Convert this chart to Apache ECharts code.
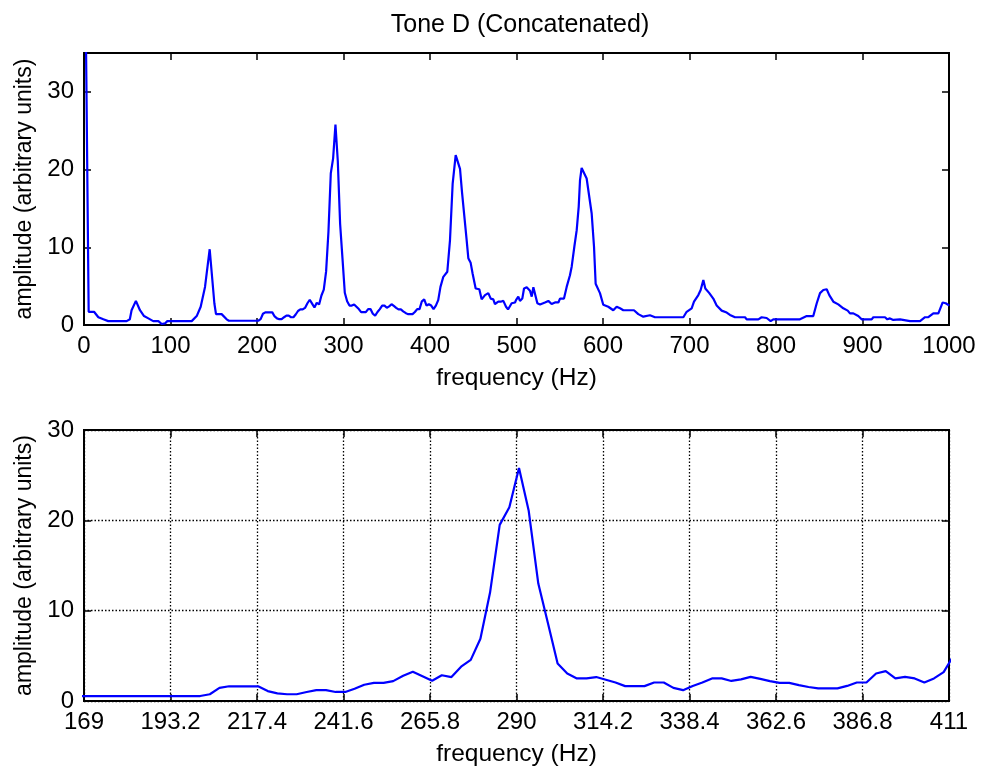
<!DOCTYPE html>
<html>
<head>
<meta charset="utf-8">
<script src="https://cdn.jsdelivr.net/npm/echarts@6/dist/echarts.min.js"></script>
<style>
html,body{margin:0;padding:0;background:#fff;}
#chart{width:981px;height:771px;}
</style>
</head>
<body>
<div id="chart"></div>
<script>
var chartTitle = 'Tone D (Concatenated)';
var xName = 'frequency (Hz)';
var yName = 'amplitude (arbitrary units)';

// Spectrum vertices (Hz, amplitude)
var frequencyHz = [
  0, 2.7, 5.4, 11.6, 16.6, 22.4, 28, 49.3, 53, 55, 60, 64.7, 69.4, 74.4, 80, 86, 89.8, 93.6, 96.3, 118.7,
  120.6, 124.5, 130.3, 134.9, 139.9, 145.3, 150.7, 152.6, 159.1, 164.9, 167.5,
  169.6, 201.5, 204.2, 206.9, 209.6, 217.7, 220.4, 223.1, 225.8, 228.5, 231.3, 234.0, 236.7, 239.4, 242.1,
  244.7, 247.4, 250.1, 252.8, 255.5, 258.3, 261.0, 263.7, 266.4, 269.1, 271.8, 274.5, 277.2, 279.9, 282.6,
  285.3, 288.0, 290.7, 293.4, 296.1, 298.8, 301.5, 304.2, 306.9, 309.6, 312.3, 315.0, 317.7, 320.4, 323.1,
  325.8, 328.5, 331.2, 333.9, 336.6, 339.3, 342.0, 344.7, 347.4, 350.1, 352.8, 355.5, 358.2, 360.9, 363.6,
  366.3, 369.0, 371.7, 374.4, 377.1, 379.8, 382.5, 385.2, 387.9, 390.6, 393.3, 396.0, 398.7, 401.4, 404.1,
  406.8, 409.5, 412.1,
  415.4, 420.0, 423.1, 426.2, 429.7, 434.7, 437.0, 439.3, 442.4, 444.3, 447.0, 449.3, 452.8, 457.0, 459.7,
  463.6, 467.4, 470.2, 473.2, 475.1, 479.0, 481.7,
  484.8, 487.9, 490.2, 494.4, 498.3, 499.4, 502.1, 504.0, 506.7, 508.7, 511.8, 515.6, 517.6, 519.5, 521.4,
  524.1, 527.2, 532.9, 536.8, 540.6, 544.5, 548.4, 550.3, 552.2, 554.9, 558.0, 561.8, 563.8, 566.9, 569.6,
  571.9, 573.4, 575.3, 581.1, 586.9, 589.6, 591.5, 596.5, 600.3, 606.1, 611.9, 615.8, 619.7, 623.5, 635.8,
  640.8, 646.6, 654.3, 660.1, 677.5, 679.4, 683.2, 692.9, 696.7, 702.5, 705.2, 710.2, 712.9, 716.0, 718.3,
  722.9, 727.5, 731.4, 737.2, 743.0, 746.8, 752.6, 764.2, 766.1, 779.6, 783.4, 789.2, 793.8, 796.9, 827.7,
  835.5, 843.1, 847.1, 850.9, 854.7, 858.6, 861.6, 866.3, 872.0, 877.8, 882.9, 885.5, 889.4, 895.1, 899.0,
  910.6, 912.5, 926.0, 928.7, 931.8, 935.6, 943.4, 945.3, 954.9, 956.9, 960.7, 966.5, 972.3, 976.1, 981.9,
  987.7, 992.7, 996.2, 1000.4
];
var amplitude = [
  60, 32, 1.7, 1.7, 1.0, 0.73, 0.5, 0.5, 0.73, 1.9, 3.1, 1.9, 1.15, 0.85, 0.5, 0.5, 0.13, 0.2, 0.5, 0.5,
  0.73, 0.5, 1.15, 2.35, 4.9, 9.75, 2.8, 1.4, 1.4, 0.73, 0.55,
  0.55, 0.55, 0.75, 1.45, 1.63, 1.63, 1.1, 0.85, 0.75, 0.75, 1.0, 1.2, 1.2, 1.0, 1.0,
  1.35, 1.8, 2.0, 2.0, 2.2, 2.8, 3.25, 2.75, 2.25, 2.85, 2.65, 3.8, 4.55, 6.9, 12.0,
  19.5, 21.45, 25.8, 21.1, 13.0, 8.6, 4.15, 3.05, 2.5, 2.5, 2.65, 2.35, 2.05, 1.65, 1.65,
  1.65, 2.05, 2.05, 1.45, 1.2, 1.67, 2.05, 2.5, 2.5, 2.22, 2.4, 2.67, 2.45, 2.2, 2.0,
  2.0, 1.75, 1.55, 1.4, 1.4, 1.4, 1.67, 2.05, 2.05, 3.05, 3.3, 2.5, 2.67, 2.5, 2.05,
  2.5, 3.2, 4.9,
  6.2, 6.85, 10.9, 18.2, 21.85, 20.1, 17.1, 17.1, 10.9, 8.6, 8.0, 6.6, 4.7, 4.6, 3.3,
  3.85, 4.1, 3.4, 3.3, 2.7, 3.0, 3.0,
  3.1, 2.35, 2.0, 2.8, 2.9, 3.2, 3.65, 3.1, 3.4, 4.7, 4.85, 4.4, 3.65, 4.85, 4.7,
  2.8, 2.65, 2.9, 3.1, 2.7, 2.9, 2.9, 3.4, 3.2, 3.4, 4.9, 6.4, 7.5, 10.1, 12.2,
  15.2, 18.6, 20.2, 18.85, 14.35, 10.1, 5.3, 4.1, 2.6, 2.35, 1.9, 2.35, 2.15, 1.9, 1.9,
  1.4, 1.07, 1.25, 1.0, 1.0, 1.15, 1.0, 1.0, 1.7, 2.15, 3.0, 3.85, 4.5, 5.8, 4.7,
  4.1, 3.4, 2.5, 1.85, 1.6, 1.3, 1.0, 1.0, 0.73, 0.73, 1.0, 0.9, 0.5, 0.73, 0.73,
  1.15, 1.15, 2.8, 4.1, 4.5, 4.6, 3.85, 3.0, 2.65, 2.15, 1.85, 1.5, 1.5, 1.15, 0.73,
  0.73, 1.0, 1.0, 0.73, 0.85, 0.65, 0.73, 0.5, 0.5, 0.73, 0.5, 0.5, 1.0, 1.0, 1.5,
  1.5, 2.9, 2.8, 2.5
];

var fullRangeHz = [0, 1000];
var fullStepHz = 100;
var zoomRangeHz = [169, 411];
var zoomTicksHz = [169, 193.2, 217.4, 241.6, 265.8, 290, 314.2, 338.4, 362.6, 386.8, 411];
var topAmpRange = [0, 35];
var topAmpTicks = [0, 10, 20, 30];
var bottomAmpRange = [0, 30];
var bottomAmpTicks = [0, 10, 20, 30];

var FONT = '"Liberation Sans", Arial, Helvetica, sans-serif';
var seriesData = frequencyHz.map(function (f, i) { return [f, amplitude[i]]; });
var plain = function (v) { return String(v); };

var tickStyle = { show: true, inside: true, length: 7, lineStyle: { color: '#000', width: 1.5 } };
var labelStyle = { color: '#000', fontSize: 24, fontFamily: FONT, formatter: plain };
var dotted = { show: true, lineStyle: { color: '#000', width: 1.3, type: [1.5, 2] } };

function xAxes(grid, range, interval, ticks, name, split) {
  var base = {
    type: 'value', gridIndex: grid, min: range[0], max: range[1], interval: interval,
    axisLine: { show: true, onZero: false, lineStyle: { color: '#000', width: 2 } },
    splitLine: split ? dotted : { show: false }
  };
  var bottom = Object.assign({}, base, {
    position: 'bottom',
    axisTick: Object.assign({}, tickStyle, ticks ? { customValues: ticks } : {}),
    axisLabel: Object.assign({}, labelStyle, { margin: 9 }, ticks ? { customValues: ticks } : {}),
    name: name, nameLocation: 'middle', nameGap: 41,
    nameTextStyle: { color: '#000', fontSize: 24.5, fontFamily: FONT }
  });
  var top = Object.assign({}, base, {
    position: 'top',
    axisTick: Object.assign({}, tickStyle, ticks ? { customValues: ticks } : {}),
    axisLabel: { show: false },
    splitLine: { show: false }
  });
  return [bottom, top];
}
function yAxes(grid, range, ticks, name, split) {
  var base = {
    type: 'value', gridIndex: grid, min: range[0], max: range[1], interval: 10,
    axisLine: { show: true, onZero: false, lineStyle: { color: '#000', width: 2 } },
    axisTick: Object.assign({}, tickStyle, { customValues: ticks })
  };
  var left = Object.assign({}, base, {
    position: 'left',
    axisLabel: Object.assign({}, labelStyle, { margin: 10, customValues: ticks }),
    splitLine: split ? dotted : { show: false },
    name: name, nameLocation: 'middle', nameGap: 46,
    nameTextStyle: { color: '#000', fontSize: 23, fontFamily: FONT }
  });
  var right = Object.assign({}, base, {
    position: 'right',
    axisLabel: { show: false },
    splitLine: { show: false }
  });
  return [left, right];
}

var xs = xAxes(0, fullRangeHz, fullStepHz, null, xName, false)
  .concat(xAxes(1, zoomRangeHz, 24.2, zoomTicksHz, xName, true));
var ys = yAxes(0, topAmpRange, topAmpTicks, yName, false)
  .concat(yAxes(1, bottomAmpRange, bottomAmpTicks, yName, true));

var chart = echarts.init(document.getElementById('chart'), null, { renderer: 'canvas' });
chart.setOption({
  animation: false,
  backgroundColor: '#fff',
  title: {
    text: chartTitle, left: 515, top: 8, textAlign: 'center',
    textStyle: { color: '#000', fontSize: 25, fontWeight: 'normal', fontFamily: FONT }
  },
  grid: [
    { left: 84, top: 53, width: 865, height: 272, show: true, borderColor: '#000', borderWidth: 2, containLabel: false },
    { left: 84, top: 430, width: 865, height: 271, show: true, borderColor: '#000', borderWidth: 2, containLabel: false }
  ],
  xAxis: xs,
  yAxis: ys,
  series: [
    { type: 'line', xAxisIndex: 0, yAxisIndex: 0, data: seriesData, showSymbol: false, clip: true,
      lineStyle: { color: '#0000ff', width: 2.2 }, itemStyle: { color: '#0000ff' } },
    { type: 'line', xAxisIndex: 2, yAxisIndex: 2, data: seriesData, showSymbol: false, clip: true,
      lineStyle: { color: '#0000ff', width: 2.2 }, itemStyle: { color: '#0000ff' } }
  ]
});
</script>
</body>
</html>
